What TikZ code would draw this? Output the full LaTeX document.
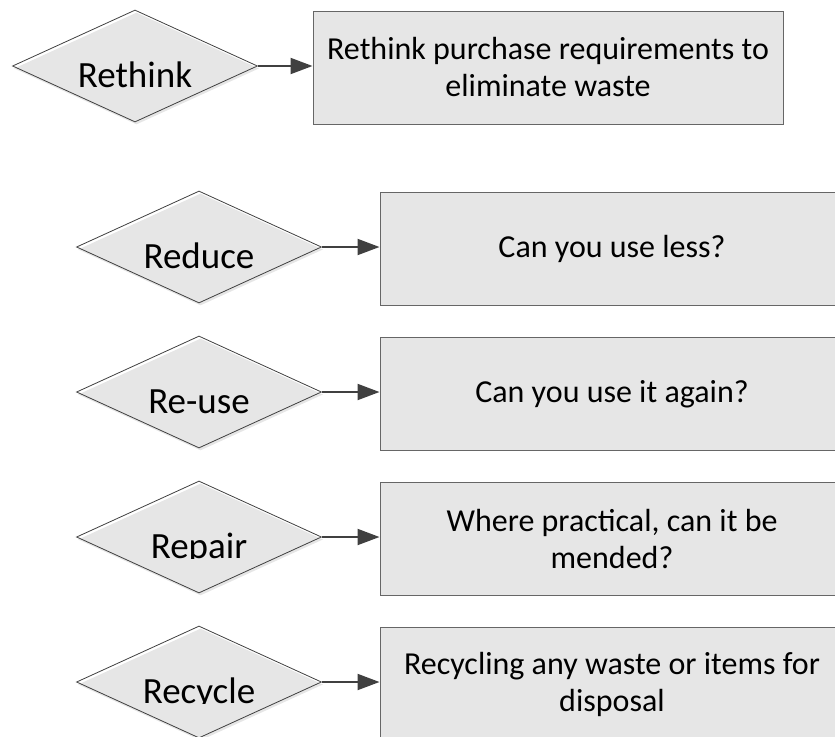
\documentclass[tikz,border=0pt]{standalone}
\usepackage{fontspec}
\setmainfont{Carlito}
\usetikzlibrary{shapes.geometric,arrows.meta}

\definecolor{boxgray}{HTML}{E6E6E6}
\definecolor{linegray}{HTML}{404040}

\tikzset{
  choice/.style={diamond, minimum width=245pt, minimum height=112pt, inner sep=0pt,
    draw=linegray, line width=0.8pt,
    preaction={fill=boxgray, transform canvas={shift={(1.5pt,-2.5pt)}}}},
  action/.style={rectangle, draw=black!60, fill=boxgray, line width=1pt,
    minimum height=113pt, align=center, font=\fontsize{32}{37}\selectfont},
  word/.style={anchor=base, font=\fontsize{37}{44}\selectfont},
  flow/.style={-{Triangle[length=22pt,width=16pt]}, draw=linegray, line width=2pt}
}

\begin{document}
\begin{tikzpicture}[x=1pt,y=-1pt]
  \clip (0,0) rectangle (835,736);
  % first step sits apart, higher and further left
  \node[choice] (rethink) at (135,66) {};
  \node[word] (rethink-word) at (135,87) {Rethink};
  \node[action, minimum width=470pt] (rethink-box) at (548,67.5)
    {Rethink purchase requirements to\\eliminate waste};
  \draw[flow] (rethink.east) -- (rethink.east -| rethink-box.west);
  % the other four steps
  \foreach \y/\nm/\word/\what in {
      247/reduce/Reduce/{Can you use less?},
      392/reuse/Re-use/{Can you use it again?},
      537/repair/Repair/{Where practical, can it be\\mended?},
      682/recycle/Recycle/{Recycling any waste or items for\\disposal}}
  {
    \node[choice] (\nm) at (199,\y) {};
    \node[action, minimum width=464pt] (\nm-box) at (612,\y+2) {\what};
    \begin{scope}
      \clip (60,\y-60) rectangle (340,\y+21.5);
      \node[word] (\nm-word) at (199,\y+21) {\word};
    \end{scope}
    \draw[flow] (\nm.east) -- (\nm.east -| \nm-box.west);
  }
\end{tikzpicture}
\end{document}
